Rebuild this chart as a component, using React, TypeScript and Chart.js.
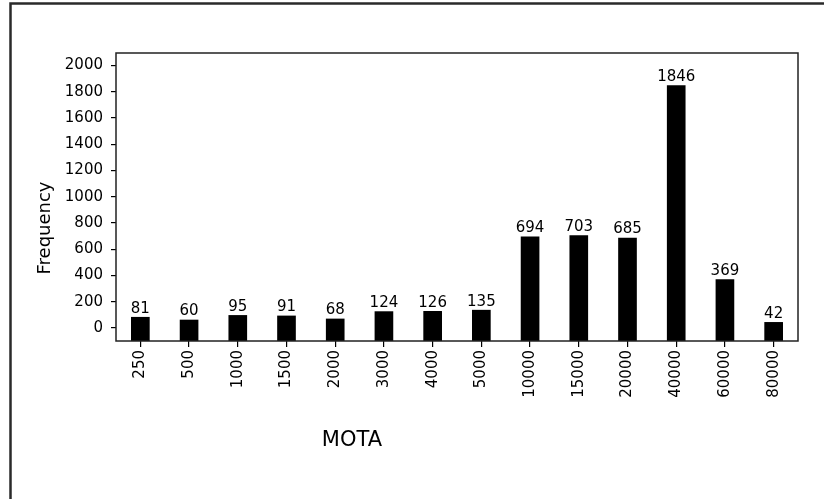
import React, { useEffect, useRef } from "react";
import { Chart, registerables } from "chart.js";

Chart.register(...registerables);

const categories = ["250", "500", "1000", "1500", "2000", "3000", "4000", "5000", "10000", "15000", "20000", "40000", "60000", "80000"];
const frequency = [81, 60, 95, 91, 68, 124, 126, 135, 694, 703, 685, 1846, 369, 42];
const yTickValues = [0, 200, 400, 600, 800, 1000, 1200, 1400, 1600, 1800, 2000];
const xTitle = "MOTA";
const yTitle = "Frequency";

const FONT = "'DejaVu Sans', sans-serif";

export default function App() {
  const ref = useRef<HTMLCanvasElement | null>(null);

  useEffect(() => {
    if (!ref.current) return;
    const decor = {
      id: "decor",
      beforeDraw(chart: any) {
        const ctx = chart.ctx;
        ctx.save();
        ctx.fillStyle = "#ffffff";
        ctx.fillRect(0, 0, chart.width, chart.height);
        ctx.strokeStyle = "#2a2a2a";
        ctx.lineWidth = 2.5;
        ctx.beginPath();
        ctx.moveTo(10.5, chart.height + 5);
        ctx.lineTo(10.5, 3.5);
        ctx.lineTo(chart.width + 5, 3.5);
        ctx.stroke();
        ctx.restore();
      },
      afterDraw(chart: any) {
        const ctx = chart.ctx;
        const a = chart.chartArea;
        ctx.save();
        ctx.strokeStyle = "#222";
        ctx.lineWidth = 1.5;
        ctx.strokeRect(a.left, a.top, a.right - a.left, a.bottom - a.top);
        ctx.fillStyle = "#000";
        ctx.font = "21px " + FONT;
        ctx.textAlign = "center";
        ctx.textBaseline = "middle";
        ctx.fillText(xTitle, a.left + (a.right - a.left) * 0.346, 441);
        ctx.translate(45, 228);
        ctx.rotate(-Math.PI / 2);
        ctx.font = "18px " + FONT;
        ctx.fillText(yTitle, 0, 0);
        ctx.restore();
      },
      afterDatasetsDraw(chart: any) {
        const ctx = chart.ctx;
        const meta = chart.getDatasetMeta(0);
        const data = chart.data.datasets[0].data;
        ctx.save();
        ctx.fillStyle = "#000";
        ctx.font = "15px " + FONT;
        ctx.textAlign = "center";
        ctx.textBaseline = "bottom";
        meta.data.forEach((bar: any, i: number) => {
          ctx.fillText(String(data[i]), bar.x, bar.y - 1);
        });
        ctx.restore();
      },
    };

    const chart = new Chart(ref.current, {
      type: "bar",
      data: {
        labels: categories,
        datasets: [
          {
            data: frequency,
            backgroundColor: "#000",
            borderWidth: 0,
            barThickness: 18,
            base: -100,
          } as any,
        ],
      },
      options: {
        animation: false,
        responsive: true,
        maintainAspectRatio: false,
        layout: { padding: { top: 53, right: 26, left: 0, bottom: 0 } },
        plugins: {
          legend: { display: false },
          tooltip: { enabled: false },
          title: { display: false },
        },
        scales: {
          x: {
            offset: true,
            grid: {
              display: true,
              offset: false,
              drawOnChartArea: false,
              drawTicks: true,
              tickLength: 6,
              color: "#000",
              lineWidth: 1.2,
            },
            border: { display: false },
            ticks: {
              minRotation: 90,
              maxRotation: 90,
              autoSkip: false,
              padding: 3,
              color: "#000",
              font: { family: FONT, size: 15 },
            },
            afterFit(scale: any) {
              scale.height = 158;
            },
          },
          y: {
            min: -100,
            max: 2095,
            grid: {
              display: true,
              drawOnChartArea: false,
              drawTicks: true,
              tickLength: 5,
              color: "#000",
              lineWidth: 1.2,
            },
            border: { display: false },
            ticks: {
              padding: 8,
              color: "#000",
              font: { family: FONT, size: 15 },
              callback: (v: any) => String(v),
            },
            afterBuildTicks(scale: any) {
              scale.ticks = yTickValues.map((v) => ({ value: v }));
            },
            afterFit(scale: any) {
              scale.width = 116;
            },
          },
        },
      },
      plugins: [decor],
    });
    return () => chart.destroy();
  }, []);

  return (
    <div style={{ position: "absolute", left: 0, top: 0, width: 824, height: 499 }}>
      <canvas ref={ref} />
    </div>
  );
}
